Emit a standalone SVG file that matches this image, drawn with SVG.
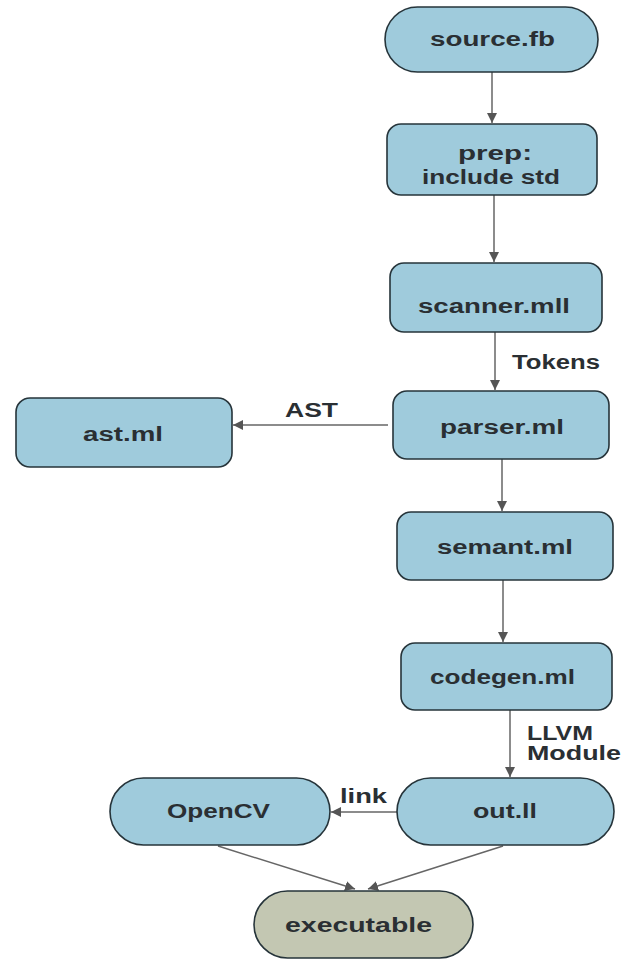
<svg xmlns="http://www.w3.org/2000/svg" width="624" height="959" viewBox="0 0 624 959">
<defs>
<style>
.n{fill:#9fcbdc;stroke:#26343a;stroke-width:1.6}
.x{fill:#c3c7b2;stroke:#26343a;stroke-width:1.6}
.t{font-family:"Liberation Sans",Arial,sans-serif;font-weight:bold;font-size:19.5px;fill:#2a2f33}
.e{stroke:#666;stroke-width:1.5;fill:none;marker-end:url(#ah)}
</style>
<marker id="ah" viewBox="0 0 10 10" refX="10" refY="5" markerWidth="10" markerHeight="10" markerUnits="userSpaceOnUse" orient="auto">
<path d="M0,0 L10,5 L0,10 z" fill="#555"/>
</marker>
</defs>
<rect width="624" height="959" fill="#fff"/>
<g id="connectors">
<line class="e" x1="492" y1="72" x2="492" y2="123"/>
<line class="e" x1="494" y1="195" x2="494" y2="262"/>
<line class="e" x1="495" y1="332" x2="495" y2="390"/>
<line class="e" x1="388" y1="425" x2="233" y2="425"/>
<line class="e" x1="502" y1="459" x2="502" y2="511"/>
<line class="e" x1="503" y1="580" x2="503" y2="642"/>
<line class="e" x1="510" y1="710" x2="510" y2="777"/>
<line class="e" x1="397" y1="812" x2="331" y2="812"/>
<line class="e" x1="218" y1="846" x2="355" y2="889"/>
<line class="e" x1="503" y1="846" x2="368" y2="889"/>
<text class="t" x="512" y="369" textLength="88" lengthAdjust="spacingAndGlyphs">Tokens</text>
<text class="t" x="285" y="417" textLength="53" lengthAdjust="spacingAndGlyphs">AST</text>
<text class="t" x="527" y="740" textLength="66" lengthAdjust="spacingAndGlyphs">LLVM</text>
<text class="t" x="527" y="760" textLength="94" lengthAdjust="spacingAndGlyphs">Module</text>
<text class="t" x="340" y="803" textLength="47" lengthAdjust="spacingAndGlyphs">link</text>
</g>
<g id="source">
<rect class="n" x="385" y="7" width="213" height="65" rx="32.5"/>
<text class="t" x="430" y="46" textLength="125" lengthAdjust="spacingAndGlyphs">source.fb</text>
</g>
<g id="prep">
<rect class="n" x="387" y="124" width="210" height="71" rx="14"/>
<text class="t" x="458" y="160" textLength="74" lengthAdjust="spacingAndGlyphs">prep:</text>
<text class="t" x="422" y="184" textLength="138" lengthAdjust="spacingAndGlyphs">include std</text>
</g>
<g id="scanner">
<rect class="n" x="390" y="263" width="212" height="69" rx="14"/>
<text class="t" x="418" y="313" textLength="152" lengthAdjust="spacingAndGlyphs">scanner.mll</text>
</g>
<g id="parser">
<rect class="n" x="393" y="391" width="216" height="68" rx="14"/>
<text class="t" x="440" y="434" textLength="124" lengthAdjust="spacingAndGlyphs">parser.ml</text>
</g>
<g id="ast">
<rect class="n" x="16" y="398" width="216" height="69" rx="14"/>
<text class="t" x="83" y="441" textLength="80" lengthAdjust="spacingAndGlyphs">ast.ml</text>
</g>
<g id="semant">
<rect class="n" x="397" y="512" width="216" height="68" rx="14"/>
<text class="t" x="437" y="554" textLength="136" lengthAdjust="spacingAndGlyphs">semant.ml</text>
</g>
<g id="codegen">
<rect class="n" x="401" y="643" width="211" height="67" rx="14"/>
<text class="t" x="430" y="684" textLength="145" lengthAdjust="spacingAndGlyphs">codegen.ml</text>
</g>
<g id="outll">
<rect class="n" x="397" y="778" width="217" height="67" rx="33.5"/>
<text class="t" x="473" y="818" textLength="64" lengthAdjust="spacingAndGlyphs">out.ll</text>
</g>
<g id="opencv">
<rect class="n" x="110" y="778" width="220" height="67" rx="33.5"/>
<text class="t" x="167" y="818" textLength="103" lengthAdjust="spacingAndGlyphs">OpenCV</text>
</g>
<g id="executable">
<rect class="x" x="254" y="891" width="219" height="67" rx="33.5"/>
<text class="t" x="285" y="932" textLength="147" lengthAdjust="spacingAndGlyphs">executable</text>
</g>
</svg>
